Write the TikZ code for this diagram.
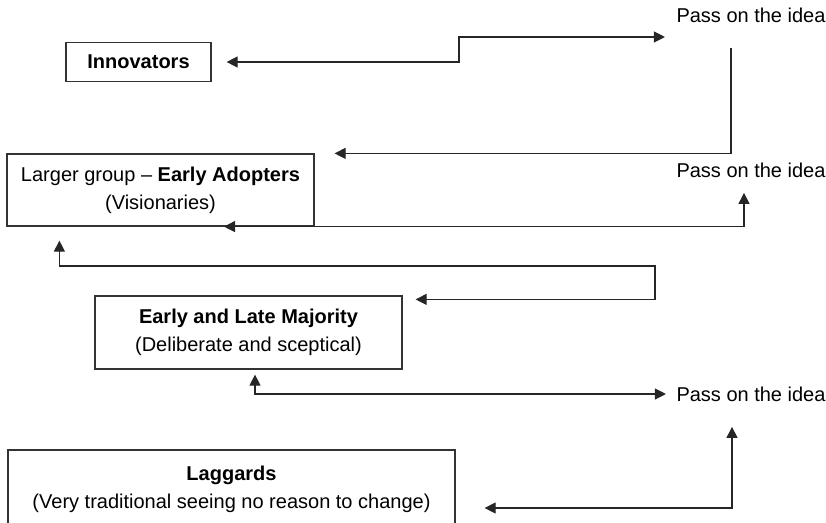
\documentclass[tikz,border=0pt]{standalone}
\usepackage{fontspec}
\setmainfont{Liberation Sans}
\usetikzlibrary{arrows.meta}

\begin{document}
\begin{tikzpicture}[
    x=1pt, y=-1pt,
    >={Triangle[length=11pt,width=11pt]},
    line width=1.1pt,
    font=\fontsize{20}{28}\selectfont
]

\tikzstyle{group}=[
    draw=black!80,
    line width=1.2pt,
    inner sep=0pt,
    align=center
]
\tikzstyle{pass}=[inner sep=0pt]
\tikzstyle{link}=[draw=black!85]

\clip (0,0) rectangle (826,522);

\node[group, minimum width=145pt, minimum height=39pt] (inno) at (138.5,62) {\textbf{Innovators}};
\node[group, minimum width=307pt, minimum height=72pt] (early) at (160.5,190) {Larger group -- \textbf{Early Adopters}\\(Visionaries)};
\node[group, minimum width=307pt, minimum height=73pt] (major) at (248.5,332.5) {\textbf{Early and Late Majority}\\(Deliberate and sceptical)};
\node[group, minimum width=447pt, minimum height=78pt] (lag) at (231.5,489) {\textbf{Laggards}\\(Very traditional seeing no reason to change)};

\node[pass] (pass1) at (751,15) {Pass on the idea};
\node[pass] (pass2) at (751,170) {Pass on the idea};
\node[pass] (pass3) at (751,394) {Pass on the idea};

\coordinate (top1) at (731,48);

\draw[link, <->] ([xshift=15pt]inno.east) -- (459,62) |- ([shift={(-11pt,-22pt)}]pass1.west);
\draw[link, ->] (top1) |- ([xshift=20pt]early.north east);
\draw[link, <->] ([xshift=63.5pt]early.south) -| ([shift={(-7pt,-15pt)}]pass2.south);
\draw[link, <->] ([shift={(53pt,-14pt)}]early.south west) |- (655,266) |- ([shift={(13pt,-4pt)}]major.north east);
\draw[link, <->] ([shift={(6.5pt,-5pt)}]major.south) |- ([xshift=-10pt]pass3.west);
\draw[link, <->] ([shift={(29pt,-19pt)}]lag.east) -| ([shift={(-19pt,-25pt)}]pass3.south);

\end{tikzpicture}
\end{document}
